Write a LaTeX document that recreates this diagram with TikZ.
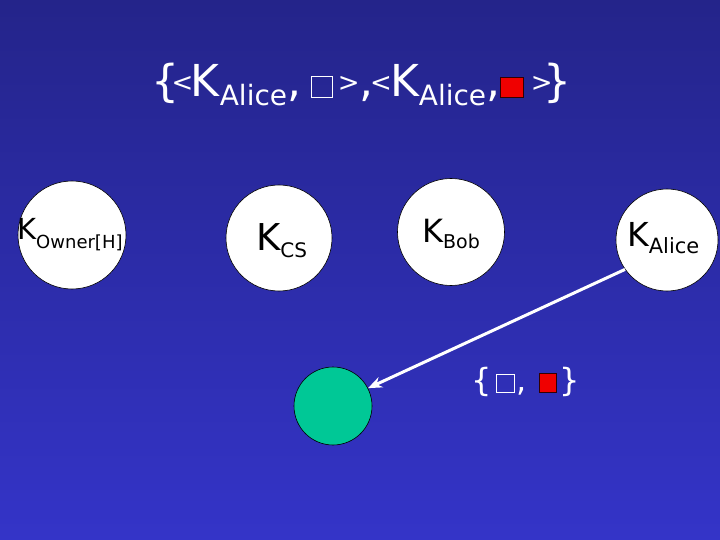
\documentclass[tikz,border=0pt]{standalone}
\usepackage{fontspec}
\setmainfont{DejaVu Sans}
\usetikzlibrary{arrows.meta}
\definecolor{bgtop}{RGB}{36,36,138}
\definecolor{bgbot}{RGB}{52,52,200}
\definecolor{greenfill}{RGB}{0,200,150}
\definecolor{sqred}{RGB}{240,0,0}
\newcommand{\hollowsq}[2]{{\setlength{\fboxsep}{0pt}\setlength{\fboxrule}{0.9pt}\textcolor{white}{\fbox{\rule{0pt}{#2}\hspace{#1}}}}}
\newcommand{\redsq}[2]{{\setlength{\fboxsep}{0pt}\setlength{\fboxrule}{0.9pt}\fcolorbox{black!80!red}{sqred}{\rule{0pt}{#2}\hspace{#1}}}}
\newcommand{\Klab}[4]{{\fontsize{#1}{#1}\selectfont K}{\fontsize{#2}{#2}\selectfont\raisebox{-#4}{#3}}}
\newcommand{\smang}[1]{\raisebox{5pt}{\fontsize{26}{26}\selectfont #1}}
\newcommand{\tsub}{\raisebox{-9pt}{\fontsize{28}{28}\selectfont Alice}}
\begin{document}
\begin{tikzpicture}[x=1pt,y=-1pt,
  wcirc/.style={circle,draw=black,line width=0.6pt,fill=white,inner sep=0pt,minimum size=#1},
  lbl/.style={inner sep=0pt,text=black,anchor=base west},
  wtext/.style={inner sep=0pt,text=white}]
\useasboundingbox (0,0) rectangle (720,540);
\shade[top color=bgtop,bottom color=bgbot] (0,0) rectangle (720,540);
% title
\node[wtext,anchor=base west] (title) at (151,97)
  {\fontsize{44}{44}\selectfont\{\hspace{-7.5pt}\smang{<}\hspace{-2.5pt}K\tsub,\hspace{10pt}\hollowsq{20pt}{20pt}\hspace{5pt}\smang{>}\hspace{0pt},\hspace{-3.5pt}\smang{<}\hspace{-2pt}K\tsub,\hspace{0pt}\redsq{22pt}{19pt}\hspace{7pt}\smang{>}\hspace{-9pt}\}};
% circles
\node[wcirc=108pt] (owner) at (72,235) {};
\node[wcirc=106pt] (cs) at (279,238) {};
\node[wcirc=107pt] (bob) at (451,232) {};
\node[wcirc=102pt] (alice) at (667,240) {};
\node[circle,draw=black,line width=0.6pt,fill=greenfill,minimum size=78pt,inner sep=0pt] (green) at (333,406) {};
% labels
\node[lbl] (ownerlbl) at (17,240) {\Klab{29}{18}{Owner[H]}{9pt}};
\node[lbl] (cslbl) at (256,250) {\Klab{37}{20}{CS}{7pt}};
\node[lbl] (boblbl) at (422,242) {\Klab{32}{19}{Bob}{6pt}};
\node[lbl] (alicelbl) at (627,246) {\Klab{33}{21}{Alice}{7pt}};
% arrow
\draw[white,line width=3pt,-{Stealth[length=14pt,width=11pt]}] (alice.215) -- (green.27);
% set
\node[wtext] (set) at (526,382)
  {\fontsize{32}{32}\selectfont\{\hspace{4pt}\hollowsq{17pt}{17pt}\hspace{2pt},\hspace{12pt}\redsq{16pt}{18pt}\hspace{3pt}\}};
\end{tikzpicture}
\end{document}
